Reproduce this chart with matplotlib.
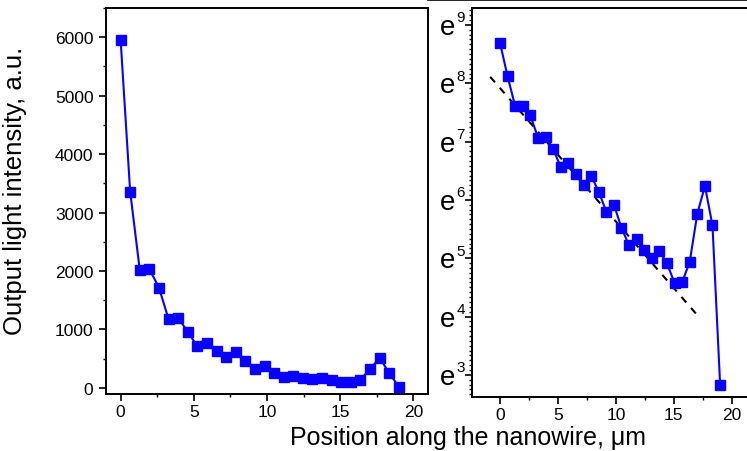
import numpy as np
import matplotlib
matplotlib.use("Agg")
import matplotlib.pyplot as plt
import matplotlib.transforms as mtransforms
from matplotlib.ticker import FixedLocator, MultipleLocator, NullFormatter
from matplotlib.lines import Line2D

plt.rcParams['font.family'] = ['Liberation Sans', 'DejaVu Sans']

# Measured output intensity along the nanowire
position_um = [0.0, 0.65, 1.31, 1.97, 2.62, 3.28, 3.93, 4.59, 5.24, 5.90,
               6.55, 7.21, 7.86, 8.52, 9.17, 9.83, 10.48, 11.14, 11.79, 12.45,
               13.10, 13.76, 14.41, 15.07, 15.72, 16.38, 17.03, 17.69, 18.34, 19.00]
intensity_au = [5950, 3360, 2010, 2030, 1715, 1170, 1195, 960, 710, 765,
                625, 520, 610, 465, 330, 372, 250, 185, 205, 172,
                148, 168, 136, 97, 98, 140, 318, 512, 260, 17]

# Exponential decay fit (end points of the straight line on the ln axis)
fit_x = [-0.85, 17.1]
fit_y = [3330, 55]

left_yticks = [0, 1000, 2000, 3000, 4000, 5000, 6000]
xticks = [0, 5, 10, 15, 20]
ln_ticks = [3, 4, 5, 6, 7, 8, 9]

W, H = 747, 452
fig = plt.figure(figsize=(W / 100, H / 100), dpi=100)

BLUE = '#0a00ff'
LW_SPINE = 1.4

def style_axes(ax):
    for s in ax.spines.values():
        s.set_linewidth(LW_SPINE)
    ax.tick_params(which='major', direction='out', length=5, width=1.2,
                   labelsize=12.5)
    ax.tick_params(axis='x', which='major', pad=2)
    ax.tick_params(axis='y', which='major', pad=4)
    ax.tick_params(which='minor', direction='out', length=2.5, width=1.0)
    ax.tick_params(top=False, right=False)

# ---- left panel: linear intensity ----
ax1 = fig.add_axes([106 / W, 1 - 395 / H, (428 - 106) / W, (395 - 9) / H])
ax1.plot(position_um, intensity_au, '-s', color=BLUE, lw=1.5, ms=7,
         mfc=BLUE, mec=BLUE)
ax1.set_xlim(-1.0, 21.0)
ax1.set_ylim(-105, 6500)
ax1.set_xticks(xticks)
ax1.set_yticks(left_yticks)
ax1.xaxis.set_minor_locator(MultipleLocator(2.5))
ax1.yaxis.set_minor_locator(MultipleLocator(500))
style_axes(ax1)
ax1.set_ylabel('Output light intensity, a.u.', fontsize=18.5)
ax1.yaxis.set_label_coords(27 / W, 1 - 191 / H, transform=fig.transFigure)

# ---- right panel: same data on a natural-log axis ----
ax2 = fig.add_axes([472 / W, 1 - 398 / H, (W - 472) / W, (398 - 9) / H])
ax2.set_yscale('log', base=np.e)
ax2.plot(fit_x, fit_y, '--', color='black', lw=1.5, dashes=(3.5, 3.5))
ax2.plot(position_um, intensity_au, '-s', color=BLUE, lw=1.5, ms=7,
         mfc=BLUE, mec=BLUE)
ax2.set_xlim(-2.42, 21.32)
ax2.set_ylim(np.exp(2.62), np.exp(9.29))
ax2.set_xticks(xticks)
ax2.xaxis.set_minor_locator(MultipleLocator(2.5))
ax2.yaxis.set_major_locator(FixedLocator([np.exp(n) for n in ln_ticks]))
minor_ln = [n + k / 12 for n in range(2, 10) for k in range(1, 12)]
ax2.yaxis.set_minor_locator(FixedLocator([np.exp(v) for v in minor_ln]))
ax2.yaxis.set_minor_formatter(NullFormatter())
style_axes(ax2)
ax2.tick_params(axis='y', labelleft=False)
ax2.spines['right'].set_visible(False)

# e^n tick labels: large "e" with a small superscript exponent
lab_tr = mtransforms.blended_transform_factory(fig.transFigure, ax2.transData)
for n in ln_ticks:
    y = np.exp(n)
    base_tr = lab_tr + mtransforms.ScaledTranslation(0, -6.5 / 72, fig.dpi_scale_trans)
    sup_tr = lab_tr + mtransforms.ScaledTranslation(0, 2.5 / 72, fig.dpi_scale_trans)
    fig.text(455.5 / W, y, 'e', transform=base_tr, ha='right', va='baseline',
             fontsize=20)
    fig.text(456.5 / W, y, str(n), transform=sup_tr, ha='left', va='baseline',
             fontsize=11)

# shared x label
fig.text(467.5 / W, 1 - 438 / H, 'Position along the nanowire, \u03bcm',
         ha='center', va='center', fontsize=18)

# thin frame edge along the top right
fig.add_artist(Line2D([428 / W, 1.0], [1 - 0.8 / H, 1 - 0.8 / H],
                      transform=fig.transFigure, color='black', lw=1.2))

fig.savefig('out.png', dpi=100)
